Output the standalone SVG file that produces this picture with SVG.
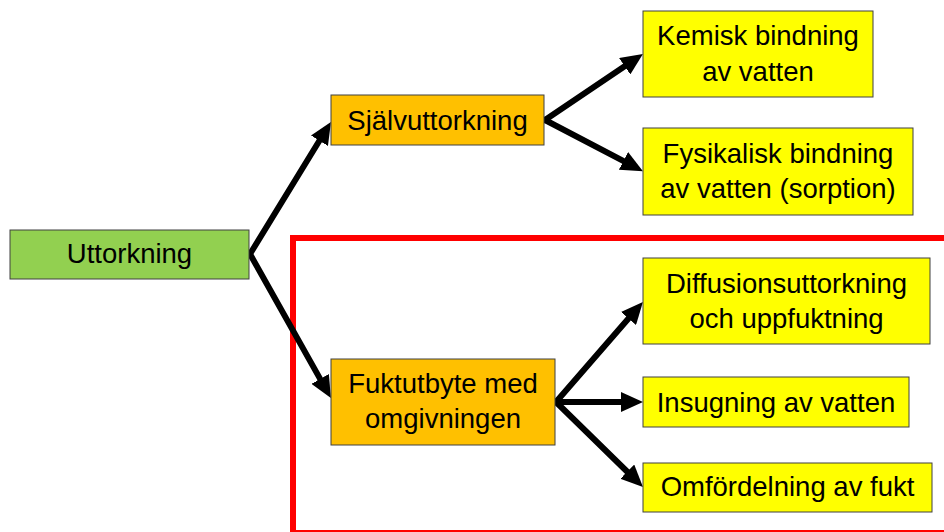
<svg xmlns="http://www.w3.org/2000/svg" width="944" height="532" viewBox="0 0 944 532">
<style>
.box{stroke:#404040;stroke-width:1}
.green{fill:#92D050}
.orange{fill:#FFC000}
.yellow{fill:#FFFF00}
text{font-family:"Liberation Sans",Arial,sans-serif;font-size:27.5px;fill:#000;text-anchor:middle}
.conn line{stroke:#000;stroke-width:6;stroke-linecap:round;marker-end:url(#arr)}
</style>
<defs>
<marker id="arr" markerUnits="userSpaceOnUse" markerWidth="24" markerHeight="20" viewBox="0 0 24 20" refX="4" refY="10" orient="auto">
<path d="M0,0 L22,10 L0,20 z" fill="#000"/>
</marker>
</defs>
<rect width="944" height="532" fill="#fff"/>
<g id="frame">
<rect x="293" y="238" width="700" height="295" fill="none" stroke="#FF0000" stroke-width="6"/>
</g>
<g class="conn" id="connectors">
<line x1="250" y1="254" x2="321.5" y2="137.3"/>
<line x1="250" y1="254" x2="322.1" y2="382.4"/>
<line x1="545" y1="120" x2="628" y2="64"/>
<line x1="545" y1="120" x2="627" y2="162.8"/>
<line x1="556" y1="402" x2="631.1" y2="315.5"/>
<line x1="556" y1="402" x2="625" y2="402"/>
<line x1="556" y1="402" x2="630.1" y2="474.5"/>
</g>
<g id="uttorkning">
<rect class="box green" x="10" y="230" width="239" height="49"/>
<text x="129.5" y="263">Uttorkning</text>
</g>
<g id="sjalvuttorkning">
<rect class="box orange" x="331" y="95" width="213" height="50"/>
<text x="437.5" y="130">Självuttorkning</text>
</g>
<g id="fuktutbyte">
<rect class="box orange" x="331" y="359" width="224" height="86"/>
<text x="443" y="393">Fuktutbyte med</text>
<text x="443" y="428">omgivningen</text>
</g>
<g id="kemisk">
<rect class="box yellow" x="643" y="11" width="230" height="86"/>
<text x="758" y="45">Kemisk bindning</text>
<text x="758" y="81">av vatten</text>
</g>
<g id="fysikalisk">
<rect class="box yellow" x="643" y="128" width="270" height="87"/>
<text x="778" y="163">Fysikalisk bindning</text>
<text x="778" y="198">av vatten (sorption)</text>
</g>
<g id="diffusion">
<rect class="box yellow" x="643" y="258" width="287" height="86"/>
<text x="786.5" y="293">Diffusionsuttorkning</text>
<text x="786.5" y="328">och uppfuktning</text>
</g>
<g id="insugning">
<rect class="box yellow" x="643" y="377" width="266" height="50"/>
<text x="776" y="411.5">Insugning av vatten</text>
</g>
<g id="omfordelning">
<rect class="box yellow" x="643" y="463" width="289" height="49"/>
<text x="787.5" y="496">Omfördelning av fukt</text>
</g>
</svg>
